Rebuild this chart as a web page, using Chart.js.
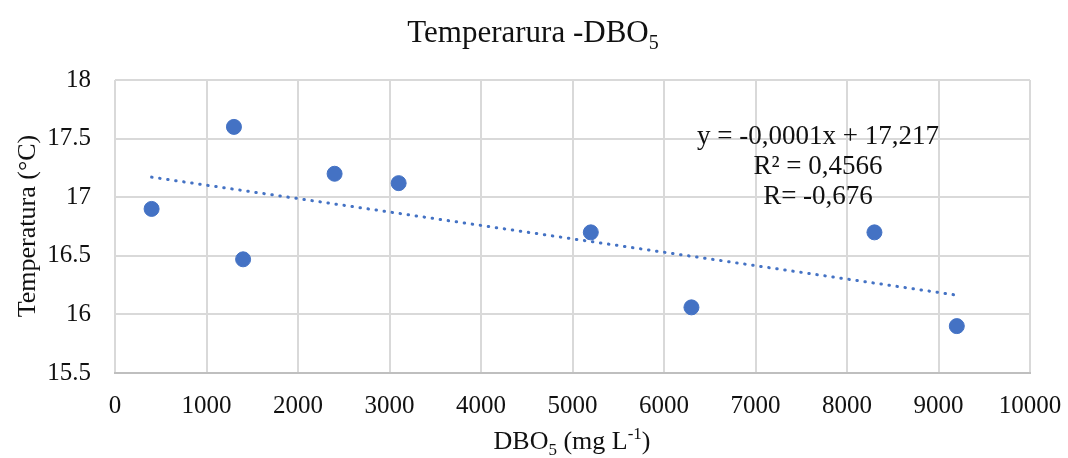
<!DOCTYPE html>
<html>
<head>
<meta charset="utf-8">
<script src="https://cdn.jsdelivr.net/npm/chart.js@4.4.1/dist/chart.umd.min.js"></script>
<style>
  html, body { margin: 0; padding: 0; background: #fff; }
  #wrap { width: 1068px; height: 458px; position: relative; }
</style>
</head>
<body>
<div id="wrap"><canvas id="chart"></canvas></div>
<script>
'use strict';

// data
var dboValues  = [400, 1300, 1400, 2400, 3100, 5200, 6300, 8300, 9200];
var tempValues = [16.9, 17.6, 16.47, 17.2, 17.12, 16.7, 16.06, 16.7, 15.9];
var xTicks = [0, 1000, 2000, 3000, 4000, 5000, 6000, 7000, 8000, 9000, 10000];
var yTicks = [15.5, 16, 16.5, 17, 17.5, 18];
var eqLines = ['y = -0,0001x + 17,217', 'R\u00B2 = 0,4566', 'R= -0,676'];

var SERIF = '"Liberation Serif", "Times New Roman", serif';
var BLUE = '#4472c4';
var INK = '#111';

// least squares trendline, spanning the data range
function linFit(xs, ys) {
  var n = xs.length, mx = 0, my = 0, sxy = 0, sxx = 0;
  for (var i = 0; i < n; i++) { mx += xs[i]; my += ys[i]; }
  mx /= n; my /= n;
  for (var j = 0; j < n; j++) {
    sxy += (xs[j] - mx) * (ys[j] - my);
    sxx += (xs[j] - mx) * (xs[j] - mx);
  }
  var b = sxy / sxx;
  return { slope: b, icpt: my - b * mx };
}
var fit = linFit(dboValues, tempValues);
var xMin = Math.min.apply(null, dboValues), xMax = Math.max.apply(null, dboValues);
var trend = [
  { x: xMin, y: fit.icpt + fit.slope * xMin },
  { x: xMax, y: fit.icpt + fit.slope * xMax }
];

// text with a subscript / superscript part: [text, 'n'|'sub'|'sup']
function drawRich(ctx, parts, cx, cy, size) {
  var small = Math.round(size * 0.65);
  var w = 0;
  parts.forEach(function(p) {
    ctx.font = (p[1] === 'n' ? size : small) + 'px ' + SERIF;
    w += ctx.measureText(p[0]).width;
  });
  var x = cx - w / 2;
  ctx.textBaseline = 'alphabetic';
  ctx.textAlign = 'left';
  parts.forEach(function(p) {
    ctx.font = (p[1] === 'n' ? size : small) + 'px ' + SERIF;
    var dy = p[1] === 'sub' ? size * 0.22 : (p[1] === 'sup' ? -size * 0.38 : 0);
    ctx.fillText(p[0], x, cy + dy);
    x += ctx.measureText(p[0]).width;
  });
}

var labelsPlugin = {
  id: 'labels',
  afterDraw: function(chart) {
    var ctx = chart.ctx;
    ctx.save();
    ctx.fillStyle = INK;
    drawRich(ctx, [['Temperarura -DBO', 'n'], ['5', 'sub']], 533, 42, 31);
    drawRich(ctx, [['DBO', 'n'], ['5', 'sub'], [' (mg L', 'n'], ['-1', 'sup'], [')', 'n']], 572, 449, 26);

    ctx.translate(35, 226);
    ctx.rotate(-Math.PI / 2);
    drawRich(ctx, [['Temperatura (\u00B0C)', 'n']], 0, 0, 26);
    ctx.restore();

    ctx.save();
    ctx.fillStyle = INK;
    ctx.font = '27px ' + SERIF;
    ctx.textAlign = 'center';
    ctx.textBaseline = 'alphabetic';
    var base = [144, 174, 204];
    eqLines.forEach(function(t, i) {
      ctx.fillText(t, 818, base[i]);
    });
    ctx.restore();
  }
};

new Chart(document.getElementById('chart'), {
  type: 'scatter',
  data: {
    datasets: [
      {
        label: 'Temperatura',
        data: dboValues.map(function(x, i) { return { x: x, y: tempValues[i] }; }),
        backgroundColor: BLUE,
        borderColor: BLUE,
        pointRadius: 7.5,
        pointHoverRadius: 7.5,
        order: 1
      },
      {
        label: 'Linear',
        type: 'line',
        data: trend,
        borderColor: BLUE,
        borderWidth: 3,
        borderDash: [0.5, 7.6],
        borderCapStyle: 'round',
        pointRadius: 0,
        fill: false,
        order: 2
      }
    ]
  },
  options: {
    responsive: true,
    maintainAspectRatio: false,
    animation: false,
    layout: { autoPadding: false, padding: { top: 80, right: 38, bottom: 0, left: 0 } },
    plugins: {
      legend: { display: false },
      title: { display: false },
      tooltip: { enabled: false }
    },
    scales: {
      x: {
        type: 'linear',
        min: 0, max: 10000,
        afterBuildTicks: function(s) { s.ticks = xTicks.map(function(v) { return { value: v }; }); },
        afterFit: function(s) { s.height = 85; s.paddingLeft = 0; s.paddingRight = 0; },
        grid: { color: '#d9d9d9', lineWidth: 2, drawTicks: false },
        border: { color: '#bfbfbf', width: 2 },
        ticks: {
          color: INK, padding: 18,
          font: { family: SERIF, size: 25 },
          maxRotation: 0,
          callback: function(v) { return String(v); }
        }
      },
      y: {
        min: 15.5, max: 18,
        afterBuildTicks: function(s) { s.ticks = yTicks.map(function(v) { return { value: v }; }); },
        afterFit: function(s) { s.width = 115; s.paddingTop = 0; s.paddingBottom = 0; },
        grid: { color: '#d9d9d9', lineWidth: 2, drawTicks: false },
        border: { display: false },
        ticks: {
          color: INK, padding: 24,
          font: { family: SERIF, size: 25 },
          callback: function(v) { return String(v); }
        }
      }
    }
  },
  plugins: [labelsPlugin]
});
</script>
</body>
</html>
